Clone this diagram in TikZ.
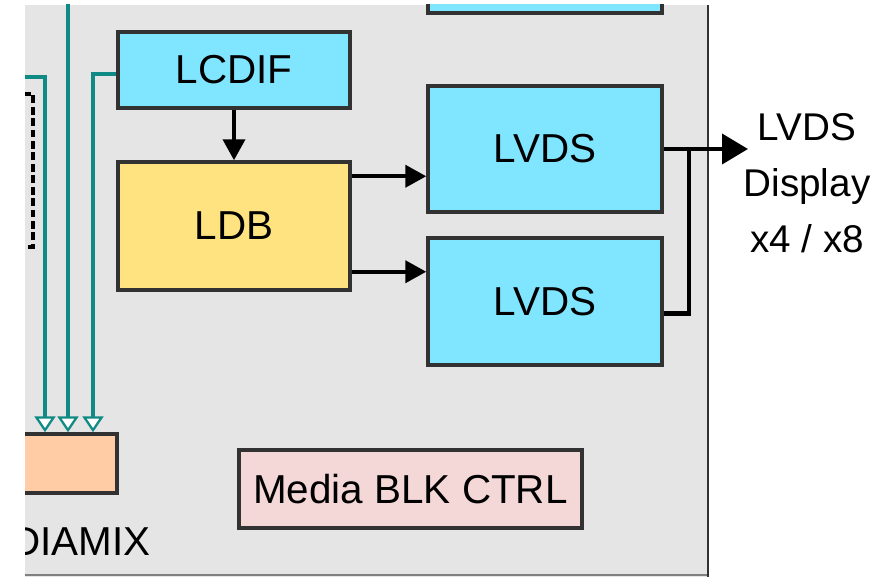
\documentclass[tikz,border=0pt]{standalone}
\usepackage{fontspec}
\setmainfont{Liberation Sans}
\usetikzlibrary{arrows.meta}

\definecolor{blkgray}{RGB}{229,229,229}
\definecolor{lvdscyan}{RGB}{128,229,255}
\definecolor{ldbyellow}{RGB}{255,227,128}
\definecolor{mixorange}{RGB}{255,204,166}
\definecolor{ctrlpink}{RGB}{244,216,216}
\definecolor{busteal}{RGB}{16,138,132}
\definecolor{edgegray}{RGB}{50,50,50}

\begin{document}
\begin{tikzpicture}[x=0.02cm, y=-0.02cm,
    blk/.style={draw=edgegray, line width=2pt, inner sep=0pt, font=\fontsize{23}{28}\selectfont},
    sig/.style={black, line width=2.3pt, -{Triangle[length=0.42cm, width=0.44cm]}},
    bus/.style={busteal, line width=2.6pt, -{Triangle[open, fill=white, length=0.32cm, width=0.42cm, line width=1.3pt]}}]

\useasboundingbox (0,0) rectangle (889,577);
\clip (25,5) rectangle (889,577);
\fill[blkgray] (25,5) rectangle (708,577);
\draw[gray, line width=1pt] (25,575) -- (708,575);
\draw[edgegray, line width=1.6pt] (708,5) -- (708,577);

% blocks
\draw[blk, fill=lvdscyan] (428,-30) rectangle (662,13);
\draw[blk, draw=black, line width=2pt, dash pattern=on 4.5pt off 2pt] (10,94) rectangle (33,247);
\node[blk, fill=lvdscyan, minimum width=4.64cm, minimum height=1.52cm] (lcdif) at (234,70) {LCDIF};
\node[blk, fill=ldbyellow, minimum width=4.64cm, minimum height=2.56cm] (ldb) at (234,226) {LDB};
\node[blk, fill=lvdscyan, minimum width=4.68cm, minimum height=2.52cm] (lvdsA) at (545,149) {LVDS};
\node[blk, fill=lvdscyan, minimum width=4.68cm, minimum height=2.54cm] (lvdsB) at (545,301.5) {LVDS};
\node[blk, fill=ctrlpink, minimum width=6.86cm, minimum height=1.56cm] (ctrl) at (410.5,489) {Media BLK CTRL};
\node[blk, fill=mixorange, minimum width=2.4cm, minimum height=1.18cm] (mix) at (57,463.5) {};
\node[font=\fontsize{23}{28}\selectfont, anchor=base east] (mixlabel) at (157,555) {DIAMIX};

% teal buses down into the mix block
\coordinate (busin) at (25,77);
\coordinate (busA) at (45,0);
\coordinate (busB) at (68,0);
\coordinate (busC) at (93,0);
\draw[bus] (busin) -| (busA |- mix.north);
\draw[bus] (busB) -- (busB |- mix.north);
\draw[bus] ([yshift=-0.08cm]lcdif.west) -| (busC |- mix.north);

% display path
\coordinate (ldbhi) at ([yshift=-0.32cm]ldb.north east);
\coordinate (ldblo) at ([yshift=0.4cm]ldb.south east);
\coordinate (lvdsBout) at ([yshift=-0.24cm]lvdsB.east);
\coordinate (join) at (689,149);
\coordinate (lvdsout) at (748,149);
\draw[sig] (lcdif) -- (ldb);
\draw[sig] (ldbhi) -- (ldbhi -| lvdsA.west);
\draw[sig] (ldblo) -- (ldblo -| lvdsB.west);
\draw[black, line width=2.3pt] (lvdsBout) -| (join);
\draw[sig, -{Triangle[length=0.52cm, width=0.6cm]}] (lvdsA.east) -- (lvdsout);

\node[align=center, font=\fontsize{22}{32}\selectfont] (disp) at (807,183) {LVDS\\Display\\x4 / x8};

\end{tikzpicture}
\end{document}
